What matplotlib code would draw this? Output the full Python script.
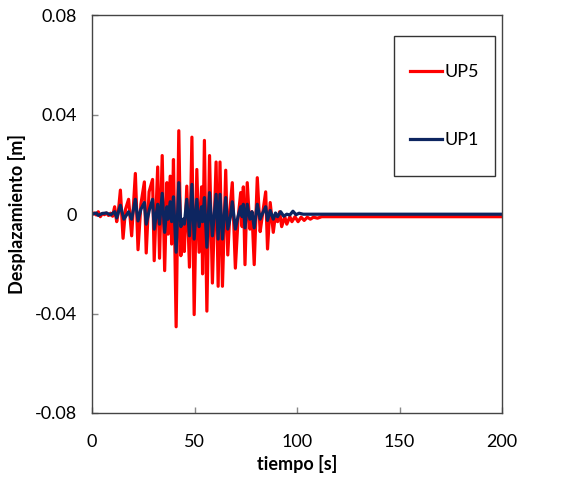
import matplotlib.pyplot as plt
from matplotlib.patches import Rectangle

plt.rcParams['font.family'] = ['Lato', 'DejaVu Sans']

t_up5 = [0, 1, 2, 3, 4, 5, 6, 7, 8, 9, 10, 11, 12, 12.8, 13.8, 15.1, 16.3, 17.8,
         19.3, 21.1, 22.4, 23.8, 25.5, 26.4, 27.8, 29.5, 30.3, 32, 32.9, 34.2,
         35.4, 36.5, 37.1, 38.1, 38.8, 39.7, 41, 42.3, 43.3, 44.5, 45, 46.2,
         47.5, 48.7, 49.8, 51.1, 52.2, 53.4, 53.9, 54.8, 56, 57.3, 58.7, 60.5,
         61.5, 62.4, 63.6, 65.2, 66.2, 67.3, 68.4, 69.9, 71.2, 72.5, 73.2, 73.8,
         74.6, 75.7, 77, 78, 79.1, 80.6, 82, 83, 84.7, 85.6, 86.9, 88.4, 89.5,
         90.5, 91.5, 92.5, 94, 95, 96.5, 97.5, 99, 100.5, 102, 103.5, 105, 106.5,
         108, 110, 112, 200]
y_up5 = [0, 0.0005, -0.0003, 0.001, -0.001, 0.0003, -0.0002, 0.0005, -0.0005,
         0.0004, -0.0008, 0.003, -0.003, 0.001, 0.0097, -0.0097, 0.002, 0.006,
         -0.0087, 0.0164, -0.0143, 0.004, 0.013, -0.0156, 0.009, 0.014, -0.0187,
         0.019, -0.0177, 0.0236, -0.0227, 0.0127, -0.008, 0.0153, -0.012, 0.022,
         -0.0453, 0.0336, -0.0167, -0.002, -0.015, 0.0113, -0.0213, 0.031,
         -0.0404, 0.018, -0.0153, 0.011, -0.024, 0.0297, -0.039, 0.0236, -0.0277,
         0.021, -0.029, 0.021, -0.029, 0.0177, -0.0164, 0.002, 0.0127, -0.0217,
         -0.002, 0.0087, -0.005, 0.011, -0.0203, 0.0127, -0.006, 0.001, -0.0203,
         0.0147, -0.007, -0.001, 0.009, -0.014, 0.0047, -0.0073, 0.0, -0.003,
         0.001, -0.005, -0.001, -0.004, -0.001, -0.003, -0.001, -0.003, -0.0012,
         -0.0025, -0.0012, -0.002, -0.0012, -0.0016, -0.001, -0.001]

# UP1 (navy)
t_up1 = [0, 2, 3, 5, 7, 9, 11, 12, 13.8, 15.5, 17.8, 19.3, 21.1, 22.4, 23.8,
         25.5, 26.4, 28, 29.5, 30.3, 32, 32.9, 34.2, 35.4, 36.5, 37.1, 38.1,
         38.8, 39.7, 41, 42.3, 43.3, 44.5, 45, 46.2, 47.5, 48.7, 49.8, 51.1,
         52.2, 53.4, 53.9, 54.8, 56, 57.3, 58.7, 60.5, 61.5, 62.4, 63.6, 65.2,
         66.2, 67.5, 68.4, 69.9, 71.2, 72.5, 73.2, 73.8, 74.6, 75.7, 77, 78,
         79.1, 80.6, 82, 83, 84.7, 85.6, 86.9, 88.4, 89.5, 90.5, 92, 93.5, 95,
         96.5, 98, 99.5, 101, 103, 200]
y_up1 = [0, 0.0005, -0.0005, 0.0003, 0.0005, -0.0003, 0.001, -0.0015, 0.0036,
         -0.002, 0.001, -0.002, 0.006, -0.0027, 0.002, 0.0047, -0.004, 0.002,
         0.006, -0.006, 0.004, -0.004, 0.0084, -0.0073, 0.003, -0.002, 0.005,
         -0.003, 0.007, -0.0153, 0.0127, -0.005, -0.002, -0.004, 0.006, -0.0087,
         0.012, -0.01, 0.006, -0.005, 0.003, -0.003, 0.0067, -0.0133, 0.0087,
         -0.0087, 0.008, -0.01, 0.008, -0.01, 0.0067, -0.006, -0.001, 0.005,
         -0.006, -0.001, 0.003, -0.001, 0.004, -0.0055, 0.004, -0.002, 0.001,
         -0.0055, 0.004, -0.002, 0.0, 0.003, -0.0025, 0.0015, -0.002, 0.0005,
         -0.001, 0.001, -0.0008, 0, -0.0003, 0.0012, -0.0002, 0.0004, 0, 0]

y_ticks = [-0.08, -0.04, 0, 0.04, 0.08]
y_labels = ['-0.08', '-0.04', '0', '0.04', '0.08']
x_ticks = [0, 50, 100, 150, 200]

fig = plt.figure(figsize=(5.83, 4.83), dpi=100)
ax = fig.add_axes([0.158, 0.145, 0.703, 0.823])

ax.plot(t_up5, y_up5, color='#FF0000', lw=2.3, label='UP5')
ax.plot(t_up1, y_up1, color='#0D2560', lw=2.3, label='UP1')

ax.set_xlim(0, 200)
ax.set_ylim(-0.08, 0.08)
ax.set_xticks(x_ticks)
ax.set_yticks(y_ticks)
ax.set_yticklabels(y_labels)
ax.tick_params(direction='in', length=4.5, width=1, color='#888888',
               labelsize=13, pad=11)
ax.tick_params(axis='x', pad=15)
for s in ax.spines.values():
    s.set_color('#444444')
    s.set_linewidth(1)

ax.set_xlabel('tiempo [s]', fontsize=13, fontweight='bold', labelpad=4)
ax.set_ylabel('Desplazamiento [m]', fontsize=13, fontweight='bold', labelpad=6)

# legend box
ax.add_patch(Rectangle((0.737, 0.596), 0.246, 0.352, transform=ax.transAxes,
                       fill=False, edgecolor='#333333', lw=1, zorder=5))
ax.legend(loc='center', bbox_to_anchor=(0.86, 0.772), frameon=False,
          fontsize=13, labelspacing=2.9, handlelength=1.75, handletextpad=0.15)

fig.savefig('out.png', dpi=100)
